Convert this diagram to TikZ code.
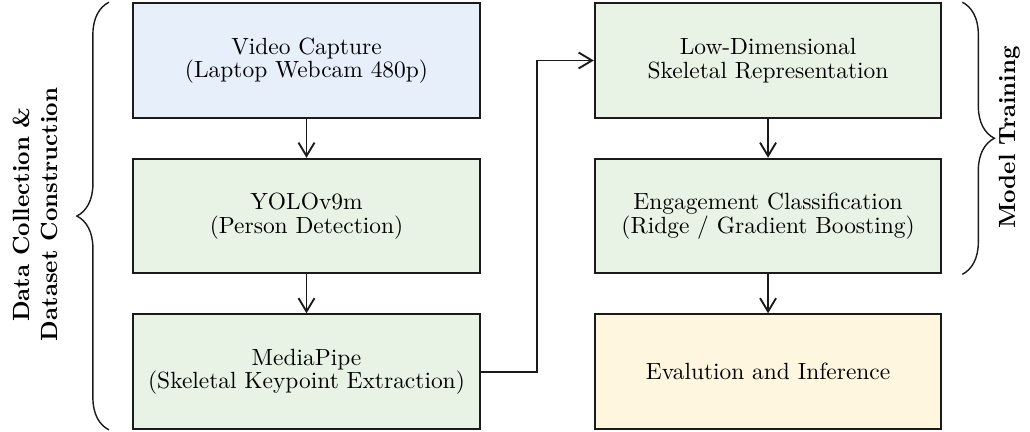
\documentclass[tikz,border=0pt]{standalone}
\usepackage{xcolor}
\usepackage{tikz}
\usetikzlibrary{arrows.meta, positioning, calc, decorations.pathreplacing}
\definecolor{pblue}{HTML}{E7EFFB}
\definecolor{pgreen}{HTML}{E8F3E5}
\definecolor{pyellow}{HTML}{FEF6DF}
\definecolor{pline}{HTML}{1A1A1A}
\tikzset{
  stagebox/.style={rectangle, draw=pline, thick, fill=pgreen, minimum width=5.2cm,
                   minimum height=1.72cm, align=center, font=\fontsize{10pt}{10pt}\selectfont},
  srcfill/.style={fill=pblue},
  outfill/.style={fill=pyellow},
  flow/.style={-{Straight Barb[length=2mm, width=2.4mm]}, draw=pline, thick},
  brc/.style={decorate, decoration={brace, amplitude=0.48cm}, draw=pline, semithick},
  sidelabel/.style={rotate=90, align=center, font=\bfseries}
}
\begin{document}
\begin{tikzpicture}[node distance=0.585cm and 1.695cm]
  \useasboundingbox (0,0) rectangle (15.45,-6.465);
  \node[stagebox, srcfill] (cap) at (4.5975,-0.9075) {Video Capture\\(Laptop Webcam 480p)};
  \node[stagebox, below=of cap] (yolo) {YOLOv9m\\(Person Detection)};
  \node[stagebox, below=of yolo] (mp) {MediaPipe\\(Skeletal Keypoint Extraction)};
  \node[stagebox, right=of cap] (skel) {Low-Dimensional\\Skeletal Representation};
  \node[stagebox, below=of skel] (cls) {Engagement Classification\\(Ridge / Gradient Boosting)};
  \node[stagebox, outfill, below=of cls] (eval) {Evalution and Inference};

  \draw[flow] (cap) -- (yolo);
  \draw[flow] (yolo) -- (mp);
  \draw[flow] (mp.east) -- ++(0.8475,0) |- (skel.west);
  \draw[flow] (skel) -- (cls);
  \draw[flow] (cls) -- (eval);

  \draw[brc] ([xshift=-0.35cm]mp.south west) -- ([xshift=-0.35cm]cap.north west);
  \draw[brc] ([xshift=0.3cm]skel.north east) -- ([xshift=0.3cm]cls.south east);
  \node[sidelabel] (dclabel) at (0.53,-3.2175) {Data Collection \&\\Dataset Construction};
  \node[sidelabel] (mtlabel) at (15.15,-2.0625) {Model Training};
\end{tikzpicture}
\end{document}
